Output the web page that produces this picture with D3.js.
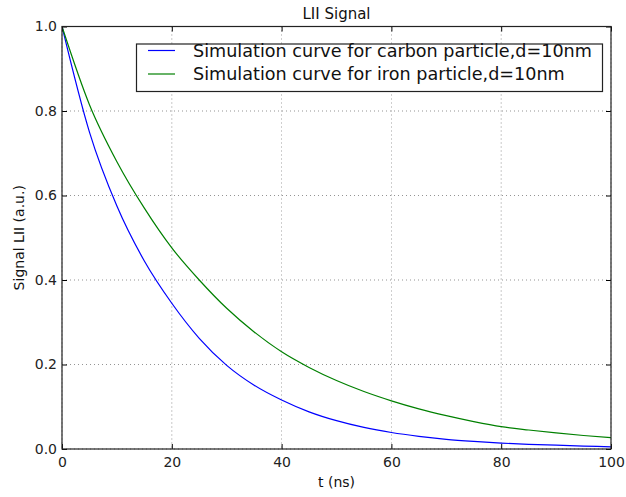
<!DOCTYPE html>
<html>
<head>
<meta charset="utf-8">
<script src="https://cdn.jsdelivr.net/npm/d3@7"></script>
<style>
  html, body { margin: 0; padding: 0; background: #fff; }
  svg { display: block; font-family: "DejaVu Sans", sans-serif; }
</style>
</head>
<body>
<svg id="chart" width="626" height="497"></svg>
<script>
// ---- data ----
const timeNs = [0, 5, 10, 15, 20, 25, 30, 35, 40, 45, 50, 55, 60, 65, 70, 75, 80, 85, 90, 95, 100];
const carbonSignal = [1.0, 0.75, 0.575, 0.445, 0.345, 0.262, 0.198, 0.151, 0.116, 0.088, 0.067, 0.051, 0.039, 0.030, 0.023, 0.018, 0.014, 0.011, 0.009, 0.007, 0.005];
const ironSignal = [1.0, 0.815, 0.68, 0.57, 0.476, 0.40, 0.333, 0.277, 0.230, 0.193, 0.162, 0.136, 0.114, 0.095, 0.079, 0.065, 0.053, 0.045, 0.038, 0.032, 0.027];
const seriesNames = ["Simulation curve for carbon particle,d=10nm", "Simulation curve for iron particle,d=10nm"];
const seriesColors = ["#0000ff", "#008000"];
const xTicks = [0, 20, 40, 60, 80, 100];
const yTicks = [0.0, 0.2, 0.4, 0.6, 0.8, 1.0];
const titleText = "LII Signal";
const xLabelText = "t (ns)";
const yLabelText = "Signal LII (a.u.)";

// ---- layout ----
const svg = d3.select("#chart");
const L = 62, R = 611, T = 26.5, B = 449;
const x = d3.scaleLinear().domain([0, 100]).range([L, R]);
const y = d3.scaleLinear().domain([0, 1]).range([B, T]);

// grid
const grid = svg.append("g");
xTicks.forEach(t => {
  grid.append("line").attr("x1", x(t)).attr("x2", x(t)).attr("y1", T).attr("y2", B)
    .attr("stroke", "#000").attr("stroke-width", 0.6).attr("stroke-dasharray", "1,3").attr("opacity", 0.7);
});
yTicks.forEach(t => {
  grid.append("line").attr("x1", L).attr("x2", R).attr("y1", y(t)).attr("y2", y(t))
    .attr("stroke", "#000").attr("stroke-width", 0.6).attr("stroke-dasharray", "1,3").attr("opacity", 0.7);
});

// curves
const series = [carbonSignal, ironSignal];
const line = d3.line().x((d, i) => x(timeNs[i])).y(d => y(d)).curve(d3.curveMonotoneX);
svg.append("clipPath").attr("id", "clip").append("rect")
  .attr("x", L).attr("y", T - 1).attr("width", R - L).attr("height", B - T + 2);
series.forEach((s, k) => {
  svg.append("path").datum(s).attr("d", line).attr("fill", "none")
    .attr("stroke", seriesColors[k]).attr("stroke-width", 1.2).attr("clip-path", "url(#clip)");
});

// axes with inward ticks on all sides
const axB = d3.axisBottom(x).tickValues(xTicks).tickSize(-5).tickPadding(8).tickFormat(d3.format("d"));
const axT = d3.axisTop(x).tickValues(xTicks).tickSize(-5).tickFormat("");
const axLf = d3.axisLeft(y).tickValues(yTicks).tickSize(-5).tickPadding(5).tickFormat(d3.format(".1f"));
const axRt = d3.axisRight(y).tickValues(yTicks).tickSize(-5).tickFormat("");
const gB = svg.append("g").attr("transform", `translate(0,${B})`).call(axB);
const gT = svg.append("g").attr("transform", `translate(0,${T})`).call(axT);
const gL = svg.append("g").attr("transform", `translate(${L},0)`).call(axLf);
const gR = svg.append("g").attr("transform", `translate(${R},0)`).call(axRt);
[gB, gT, gL, gR].forEach(g => {
  g.select(".domain").remove();
  g.selectAll(".tick line").attr("stroke", "#000").attr("stroke-width", 1);
  g.selectAll("text").attr("font-size", 14).attr("fill", "#222").attr("font-family", "DejaVu Sans, sans-serif");
});
gB.selectAll("text").attr("dy", "0.71em");
// frame
svg.append("rect").attr("x", L).attr("y", T).attr("width", R - L).attr("height", B - T)
  .attr("fill", "none").attr("stroke", "#222").attr("stroke-width", 1.2);

// title and labels
svg.append("text").attr("x", (L + R) / 2).attr("y", 19).attr("text-anchor", "middle")
  .attr("font-size", 15).attr("fill", "#111").text(titleText);
svg.append("text").attr("x", (L + R) / 2).attr("y", 487).attr("text-anchor", "middle")
  .attr("font-size", 14).attr("fill", "#111").text(xLabelText);
svg.append("text").attr("transform", `translate(24,${(T + B) / 2}) rotate(-90)`)
  .attr("text-anchor", "middle").attr("font-size", 14).attr("fill", "#111").text(yLabelText);

// legend
const lg = svg.append("g");
lg.append("rect").attr("x", 136.5).attr("y", 44).attr("width", 466).attr("height", 47.5)
  .attr("fill", "#fff").attr("stroke", "#222").attr("stroke-width", 1.2);
seriesNames.forEach((name, k) => {
  const cy = 50.5 + k * 23.5;
  lg.append("line").attr("x1", 148).attr("x2", 175).attr("y1", cy).attr("y2", cy)
    .attr("stroke", seriesColors[k]).attr("stroke-width", 1.2);
  lg.append("text").attr("x", 193).attr("y", cy).attr("dy", "0.36em")
    .attr("font-size", 17.6).attr("fill", "#111").text(name);
});
</script>
</body>
</html>
